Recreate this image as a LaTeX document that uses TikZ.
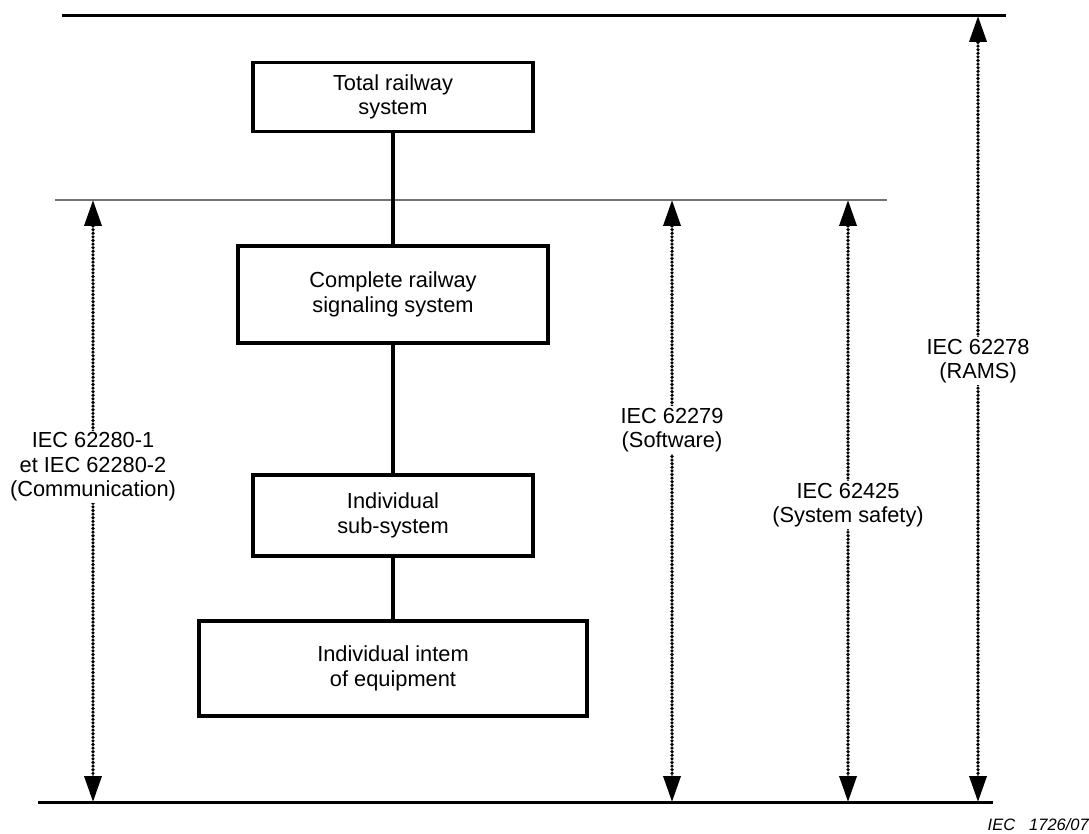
\documentclass[tikz,border=0pt]{standalone}
\usepackage{fontspec}
\setmainfont{Liberation Sans}
\usetikzlibrary{arrows.meta}
\begin{document}
\begin{tikzpicture}[x=1pt,y=-1pt,
  box/.style={draw,line width=3.2pt,minimum width=#1,align=center,inner sep=0pt,font=\fontsize{21.8}{24.5}\selectfont},
  lbl/.style={align=center,inner sep=0pt,font=\fontsize{21.8}{24.5}\selectfont},
  link/.style={line width=3.2pt},
  span/.style={line width=3.6pt,line cap=round,dash pattern=on 0pt off 3.6pt,
    {Triangle[length=26pt,width=17pt]}-{Triangle[length=26pt,width=17pt]}},
  thick rule/.style={line width=3pt},
  thin rule/.style={line width=1.4pt,draw=black!55}]
\useasboundingbox (0,0) rectangle (1089,834);
% rules
\coordinate (tl) at (62,16); \coordinate (tr) at (1006,16);
\coordinate (bl) at (38,802); \coordinate (br) at (993,802);
\coordinate (ml) at (55,200); \coordinate (mr) at (887,200);
\draw[thick rule] (tl) -- (tr);
\draw[thick rule] (bl) -- (br);
\draw[thin rule] (ml) -- (mr);
% boxes
\node[box=280pt,minimum height=69pt] (b1) at (393,97) {Total railway\\system};
\node[box=310pt,minimum height=97pt] (b2) at (393,294.5) {Complete railway\\signaling system};
\node[box=280pt,minimum height=81pt] (b3) at (393,515.5) {Individual\\sub-system};
\node[box=388pt,minimum height=95pt] (b4) at (393,668.5) {Individual intem\\of equipment};
\draw[link] (b1) -- (b2);
\draw[link] (b2) -- (b3);
\draw[link] (b3) -- (b4);
% spans
\coordinate (a1t) at (93,200); \coordinate (a1b) at (93,802);
\coordinate (a2t) at (672,200); \coordinate (a2b) at (672,802);
\coordinate (a3t) at (848,200); \coordinate (a3b) at (848,802);
\coordinate (a4t) at (978,16); \coordinate (a4b) at (978,802);
\draw[span] (a1b) -- (a1t);
\draw[span] (a2b) -- (a2t);
\draw[span] (a3b) -- (a3t);
\draw[span] (a4b) -- (a4t);
% labels
\node[lbl,fill=white,inner ysep=2pt] (l1) at (93,467) {IEC 62280-1\\et IEC 62280-2\\(Communication)};
\node[lbl,fill=white,inner ysep=2pt] (l2) at (672,430) {IEC 62279\\(Software)};
\node[lbl,fill=white,inner ysep=2pt] (l3) at (848,505) {IEC 62425\\(System safety)};
\node[lbl,fill=white,inner ysep=2pt] (l4) at (978,361) {IEC 62278\\(RAMS)};
\node[anchor=base east,inner sep=0pt,font=\fontsize{16.5}{18}\selectfont\itshape] (ref) at (1089,830) {IEC\hspace{14pt}1726/07};
\end{tikzpicture}
\end{document}
